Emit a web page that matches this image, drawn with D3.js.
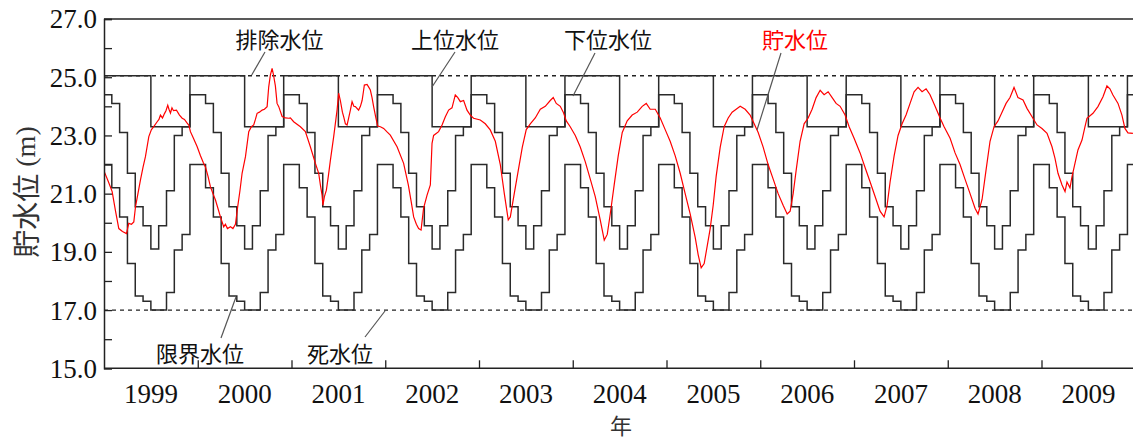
<!DOCTYPE html>
<html>
<head>
<meta charset="utf-8">
<script src="https://cdn.jsdelivr.net/npm/d3@7"></script>
<style>
  body { margin: 0; background: #fff; }
  svg { display: block; }
</style>
</head>
<body>
<svg id="chart" width="1133" height="439"></svg>
<script>
// Years shown on the time axis
const years = [1999, 2000, 2001, 2002, 2003, 2004, 2005, 2006, 2007, 2008, 2009];
const yearLabels = ["1999", "2000", "2001", "2002", "2003", "2004", "2005", "2006", "2007", "2008", "2009"];
const yTickValues = [15, 16, 17, 18, 19, 20, 21, 22, 23, 24, 25, 26, 27];
const yLabelValues = [15, 17, 19, 21, 23, 25, 27];

// Monthly operating rule levels (m), one value per month, repeated every year
const upperLevel = [25.05, 25.05, 25.05, 25.05, 25.05, 25.05, 23.3, 23.3, 23.3, 23.3, 23.3, 25.05];
const lowerLevel = [24.4, 24.1, 23.1, 21.7, 20.55, 19.9, 19.1, 19.9, 21.1, 23.0, 23.3, 24.4];
const limitLevel = [22.0, 21.2, 20.2, 18.6, 17.48, 17.3, 17.0, 17.0, 17.6, 19.06, 19.6, 22.0];
const dischargeLevel = 25.05;
const deadLevel = 17.0;

// Observed storage level (decimal year, m)
const levelDates = [
  1999.005, 1999.048, 1999.087, 1999.123, 1999.158, 1999.197, 1999.240, 1999.264, 1999.293, 1999.318,
  1999.336, 1999.362, 1999.389, 1999.416, 1999.442, 1999.478, 1999.506, 1999.531, 1999.567, 1999.586,
  1999.602, 1999.624, 1999.645, 1999.661, 1999.680, 1999.693, 1999.709, 1999.725, 1999.741, 1999.773,
  1999.805, 1999.834, 1999.858, 1999.887, 1999.906, 1999.922, 1999.954, 1999.994,
  2000.029, 2000.061, 2000.082, 2000.109, 2000.135, 2000.162, 2000.189, 2000.215, 2000.242, 2000.277,
  2000.295, 2000.317, 2000.349, 2000.375, 2000.402, 2000.426, 2000.450, 2000.473, 2000.509, 2000.544,
  2000.572, 2000.597, 2000.615, 2000.633, 2000.658, 2000.687, 2000.711, 2000.740, 2000.757, 2000.775,
  2000.793, 2000.807, 2000.828, 2000.846, 2000.864, 2000.900, 2000.935, 2000.970, 2000.988,
  2001.023, 2001.095, 2001.148, 2001.201, 2001.255, 2001.290, 2001.308, 2001.326, 2001.335, 2001.351,
  2001.372, 2001.393, 2001.415, 2001.450, 2001.486, 2001.503, 2001.521, 2001.543, 2001.557, 2001.575,
  2001.593, 2001.610, 2001.628, 2001.646, 2001.665, 2001.681, 2001.716, 2001.735, 2001.753, 2001.767,
  2001.777, 2001.806, 2001.825, 2001.841, 2001.859, 2001.876, 2001.900, 2001.919, 2001.948, 2001.983,
  2002.019, 2002.054, 2002.126, 2002.196, 2002.246, 2002.278, 2002.303, 2002.332, 2002.356, 2002.382,
  2002.409, 2002.446, 2002.481, 2002.499, 2002.516, 2002.569, 2002.606, 2002.641, 2002.676, 2002.712,
  2002.747, 2002.774, 2002.801, 2002.836, 2002.872, 2002.907, 2002.942,
  2003.014, 2003.067, 2003.120, 2003.174, 2003.227, 2003.270, 2003.312, 2003.334, 2003.376, 2003.419,
  2003.462, 2003.504, 2003.547, 2003.600, 2003.654, 2003.707, 2003.760, 2003.792, 2003.824, 2003.867,
  2003.899, 2003.931, 2003.973,
  2004.027, 2004.080, 2004.133, 2004.187, 2004.240, 2004.293, 2004.336, 2004.368, 2004.400, 2004.442,
  2004.485, 2004.528, 2004.581, 2004.634, 2004.688, 2004.741, 2004.784, 2004.826, 2004.880, 2004.933,
  2004.986,
  2005.039, 2005.093, 2005.146, 2005.199, 2005.253, 2005.306, 2005.338, 2005.370, 2005.402, 2005.434,
  2005.466, 2005.498, 2005.530, 2005.573, 2005.615, 2005.658, 2005.700, 2005.743, 2005.786, 2005.839,
  2005.892, 2005.935, 2005.978,
  2006.031, 2006.084, 2006.138, 2006.191, 2006.244, 2006.287, 2006.319, 2006.351, 2006.383, 2006.425,
  2006.468, 2006.511, 2006.553, 2006.596, 2006.639, 2006.681, 2006.724, 2006.767, 2006.809, 2006.852,
  2006.905, 2006.948,
  2007.001, 2007.065, 2007.118, 2007.172, 2007.225, 2007.278, 2007.321, 2007.353, 2007.385, 2007.428,
  2007.470, 2007.513, 2007.555, 2007.598, 2007.641, 2007.683, 2007.726, 2007.769, 2007.811, 2007.865,
  2007.918, 2007.961,
  2008.025, 2008.078, 2008.131, 2008.184, 2008.238, 2008.291, 2008.323, 2008.366, 2008.408, 2008.451,
  2008.494, 2008.536, 2008.579, 2008.622, 2008.664, 2008.707, 2008.749, 2008.803, 2008.845, 2008.899,
  2008.952,
  2009.005, 2009.059, 2009.112, 2009.144, 2009.176, 2009.219, 2009.251, 2009.272, 2009.304, 2009.325,
  2009.357, 2009.389, 2009.432, 2009.464, 2009.485, 2009.549, 2009.602, 2009.656, 2009.698, 2009.730,
  2009.762, 2009.816, 2009.858, 2009.890, 2009.922, 2009.975
];
const levelValues = [
  21.74, 21.40, 21.07, 20.40, 19.80, 19.70, 19.63, 19.98, 19.95, 20.03,
  20.55, 21.00, 21.47, 21.90, 22.27, 22.96, 23.20, 23.30, 23.47, 23.55,
  23.70, 23.60, 23.75, 23.85, 24.04, 23.90, 23.77, 23.95, 23.85, 23.87,
  23.70, 23.59, 23.55, 23.42, 23.35, 23.13, 22.90, 22.61,
  22.30, 22.05, 21.92, 21.60, 21.24, 21.00, 20.78, 20.50, 20.20, 19.86,
  19.95, 19.80, 19.86, 19.80, 19.95, 20.55, 21.10, 21.70, 22.27, 23.13,
  23.30, 23.36, 23.55, 23.76, 23.80, 23.87, 23.90, 23.99, 24.67, 25.08,
  25.30, 25.10, 24.70, 24.10, 23.99, 23.65, 23.60, 23.59, 23.60,
  23.47, 23.30, 23.13, 22.61, 22.04, 21.70, 21.30, 20.95, 20.60, 20.90,
  21.12, 21.60, 22.15, 22.96, 23.87, 24.45, 24.20, 23.80, 23.64, 23.40,
  23.36, 23.60, 23.87, 24.16, 24.00, 23.99, 23.87, 24.00, 24.20, 24.50,
  24.73, 24.75, 24.65, 24.56, 24.30, 23.99, 23.60, 23.32, 23.30, 23.24,
  23.12, 23.01, 22.61, 22.04, 21.30, 20.70, 20.20, 19.95, 19.80, 19.75,
  20.50, 20.95, 21.30, 22.73, 23.00, 23.13, 23.36, 23.64, 23.87, 23.95,
  24.39, 24.30, 24.16, 24.20, 23.87, 23.70, 23.59,
  23.53, 23.40, 23.19, 22.80, 22.00, 21.00, 20.10, 20.20, 21.00, 21.80,
  22.60, 23.20, 23.40, 23.60, 23.90, 24.00, 24.20, 24.30, 24.10, 24.00,
  23.80, 23.50, 23.30,
  23.00, 22.60, 22.10, 21.50, 20.90, 20.10, 19.40, 19.60, 20.30, 21.30,
  22.30, 23.10, 23.50, 23.70, 23.80, 24.00, 24.10, 23.90, 23.90, 23.60,
  23.20,
  22.80, 22.30, 21.70, 21.00, 20.30, 19.50, 18.90, 18.45, 18.60, 19.20,
  19.80, 20.60, 21.60, 22.60, 23.30, 23.60, 23.80, 23.90, 24.00, 23.90,
  23.70, 23.40, 23.10,
  22.60, 22.00, 21.50, 21.00, 20.60, 20.30, 20.40, 21.00, 21.80, 22.80,
  23.40, 23.60, 23.90, 24.30, 24.55, 24.40, 24.50, 24.30, 24.10, 24.00,
  23.70, 23.30,
  22.90, 22.40, 21.90, 21.40, 20.90, 20.40, 20.20, 20.60, 21.40, 22.30,
  23.00, 23.40, 23.70, 24.10, 24.50, 24.65, 24.50, 24.60, 24.40, 24.00,
  23.60, 23.30,
  22.90, 22.40, 22.00, 21.50, 21.00, 20.50, 20.30, 20.80, 21.80, 22.80,
  23.30, 23.50, 23.80, 24.10, 24.30, 24.65, 24.30, 24.22, 23.93, 23.64,
  23.36,
  23.24, 23.07, 22.61, 22.21, 21.70, 21.30, 21.07, 21.40, 21.20, 21.58,
  22.04, 22.50, 22.84, 23.30, 23.59, 23.76, 23.99, 24.33, 24.70, 24.60,
  24.39, 24.10, 23.70, 23.24, 23.09, 23.07
];

const svg = d3.select("#chart");
const W = 1133, H = 439;
const plotLeft = 104, plotTop = 19, plotBottom = 368.3;

const x = d3.scaleLinear().domain([1999, 2010]).range([plotLeft, plotLeft + 11 * 93.75]);
const y = d3.scaleLinear().domain([15, 27]).range([plotBottom, plotTop]);

svg.append("defs").append("clipPath").attr("id", "plot-clip")
  .append("rect").attr("x", plotLeft).attr("y", plotTop - 2)
  .attr("width", W - plotLeft + 10).attr("height", plotBottom - plotTop + 4);

const serif = "'Liberation Serif', 'Times New Roman', serif";
const cjk = "'Noto Sans CJK JP', 'Noto Sans CJK SC', sans-serif";

// Expand a monthly rule into a step series covering every year
function ruleSeries(monthly) {
  const pts = [];
  years.forEach(yr => monthly.forEach((v, m) => pts.push([yr + m / 12, v])));
  pts.push([years[years.length - 1] + 1, monthly[0]]);
  return pts;
}

const plot = svg.append("g").attr("clip-path", "url(#plot-clip)");

// Reference levels (dashed)
[dischargeLevel, deadLevel].forEach(v => {
  plot.append("line")
    .attr("x1", x(1999)).attr("x2", x(2010))
    .attr("y1", y(v)).attr("y2", y(v))
    .attr("stroke", "#222").attr("stroke-width", 1.3)
    .attr("stroke-dasharray", "4,4");
});

const stepLine = d3.line().x(d => x(d[0])).y(d => y(d[1])).curve(d3.curveStepAfter);

[upperLevel, lowerLevel, limitLevel].forEach(rule => {
  plot.append("path")
    .datum(ruleSeries(rule))
    .attr("d", stepLine)
    .attr("fill", "none")
    .attr("stroke", "#2a2a2a")
    .attr("stroke-width", 1.5);
});

// Storage level
const levelLine = d3.line().x(d => x(d[0])).y(d => y(d[1]));
plot.append("path")
  .datum(levelDates.map((d, i) => [d, levelValues[i]]))
  .attr("d", levelLine)
  .attr("fill", "none")
  .attr("stroke", "#ff0000")
  .attr("stroke-width", 1.2);

// Frame
svg.append("line").attr("x1", plotLeft).attr("x2", W + 5)
  .attr("y1", plotTop).attr("y2", plotTop).attr("stroke", "#222").attr("stroke-width", 1.5);

// Y axis (ticks point inward)
const yAxis = d3.axisLeft(y).tickValues(yTickValues).tickSize(-8).tickFormat("");
const gy = svg.append("g").attr("transform", `translate(${plotLeft},0)`).call(yAxis);
gy.select(".domain").attr("stroke", "#222").attr("stroke-width", 1.5);
gy.selectAll(".tick line").attr("stroke", "#222").attr("stroke-width", 1.3);

svg.append("g").selectAll("text").data(yLabelValues).join("text")
  .attr("x", 97).attr("y", d => y(d))
  .attr("dy", "0.35em")
  .attr("text-anchor", "end")
  .attr("font-family", serif).attr("font-size", 27).attr("fill", "#111")
  .text(d => d3.format(".1f")(d));

// X axis (ticks at year boundaries, pointing inward)
const xAxis = d3.axisBottom(x).tickValues(years.slice(1)).tickSize(-8).tickFormat("");
const gx = svg.append("g").attr("transform", `translate(0,${plotBottom})`).call(xAxis);
gx.select(".domain").attr("d", `M${plotLeft},0H${W + 5}`).attr("stroke", "#222").attr("stroke-width", 1.5);
gx.selectAll(".tick line").attr("stroke", "#222").attr("stroke-width", 1.3);

svg.append("g").selectAll("text").data(years).join("text")
  .attr("x", d => x(d + 0.5)).attr("y", 403)
  .attr("text-anchor", "middle")
  .attr("font-family", serif).attr("font-size", 27).attr("fill", "#111")
  .text((d, i) => yearLabels[i]);

// Axis titles
svg.append("text")
  .attr("transform", "translate(25,192) rotate(-90)")
  .attr("text-anchor", "middle").attr("dominant-baseline", "central")
  .attr("font-size", 28).attr("fill", "#333")
  .html(`<tspan font-family="${cjk}">貯水位</tspan><tspan font-family="${serif}"> (m)</tspan>`);

svg.append("text")
  .attr("x", 621).attr("y", 424)
  .attr("text-anchor", "middle").attr("dominant-baseline", "central")
  .attr("font-family", cjk).attr("font-size", 22).attr("fill", "#333")
  .text("年");

// Annotations with leader lines
const notes = [
  { text: "排除水位", tx: 279.5, ty: 38, color: "#111", line: [265, 52, 251.7, 75] },
  { text: "上位水位", tx: 455, ty: 38, color: "#111", line: [455, 52, 432, 87] },
  { text: "下位水位", tx: 608, ty: 38, color: "#111", line: [595, 53, 573, 96] },
  { text: "貯水位", tx: 795, ty: 38, color: "#ff0000", line: [781, 53, 757, 130] },
  { text: "限界水位", tx: 200, ty: 352, color: "#111", line: [221, 338, 236, 297] },
  { text: "死水位", tx: 340, ty: 352, color: "#111", line: [365, 337, 385, 311] }
];
const gn = svg.append("g");
notes.forEach(n => {
  gn.append("line")
    .attr("x1", n.line[0]).attr("y1", n.line[1]).attr("x2", n.line[2]).attr("y2", n.line[3])
    .attr("stroke", "#555").attr("stroke-width", 1.2);
  gn.append("text")
    .attr("x", n.tx).attr("y", n.ty)
    .attr("text-anchor", "middle").attr("dominant-baseline", "central")
    .attr("font-family", cjk).attr("font-size", 22).attr("fill", n.color)
    .text(n.text);
});
</script>
</body>
</html>
